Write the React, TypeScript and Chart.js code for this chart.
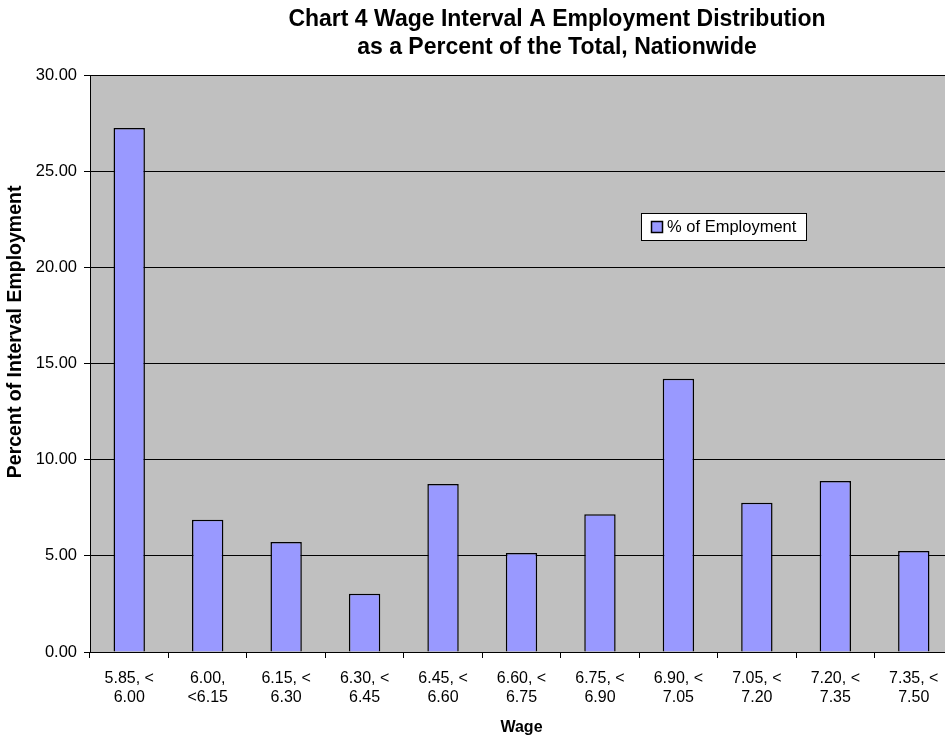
import React, { useEffect, useRef } from "react";
import { Chart, registerables } from "chart.js";

Chart.register(...registerables);

const FONT = "'Liberation Sans', Arial, Helvetica, sans-serif";

const categories: string[][] = [
  ["5.85, <", "6.00"],
  ["6.00,", "<6.15"],
  ["6.15, <", "6.30"],
  ["6.30, <", "6.45"],
  ["6.45, <", "6.60"],
  ["6.60, <", "6.75"],
  ["6.75, <", "6.90"],
  ["6.90, <", "7.05"],
  ["7.05, <", "7.20"],
  ["7.20, <", "7.35"],
  ["7.35, <", "7.50"],
];

const employmentPct: number[] = [27.25, 6.88, 5.72, 3.03, 8.74, 5.15, 7.17, 14.21, 7.76, 8.89, 5.25];

const seriesLabel = "% of Employment";
const titleLines = [
  "Chart 4 Wage Interval A Employment Distribution",
  "as a Percent of the Total, Nationwide",
];
const xTitle = "Wage";
const yTitle = "Percent of Interval Employment";
const yMin = 0;
const yMax = 30;
const yStep = 5;

const plotBackground = {
  id: "plotBackground",
  beforeDraw(chart: any) {
    const { ctx, chartArea } = chart;
    ctx.save();
    ctx.fillStyle = "#C0C0C0";
    ctx.fillRect(chartArea.left, chartArea.top, chartArea.right - chartArea.left, chartArea.bottom - chartArea.top);
    ctx.restore();
  },
};

const yAxisTitle = {
  id: "yAxisTitle",
  afterDraw(chart: any) {
    const { ctx, chartArea } = chart;
    const h = chartArea.bottom - chartArea.top;
    ctx.save();
    ctx.translate(16, chartArea.top + h * 0.445);
    ctx.rotate(-Math.PI / 2);
    ctx.font = `bold 19.5px ${FONT}`;
    ctx.fillStyle = "#000000";
    ctx.textAlign = "center";
    ctx.textBaseline = "middle";
    ctx.fillText(yTitle, 0, 0);
    ctx.restore();
  },
};

const boxLegend = {
  id: "boxLegend",
  afterDraw(chart: any) {
    const { ctx, chartArea } = chart;
    const ds = chart.data.datasets[0];
    const w = chartArea.right - chartArea.left;
    const h = chartArea.bottom - chartArea.top;
    const x = chartArea.left + w * 0.6385;
    const y = chartArea.top + h * 0.239;
    ctx.save();
    ctx.font = `16.5px ${FONT}`;
    const tw = ctx.measureText(ds.label).width;
    const bw = 10 + 11 + 5 + tw + 10;
    const bh = 27;
    ctx.fillStyle = "#FFFFFF";
    ctx.fillRect(x, y, bw, bh);
    ctx.strokeStyle = "#000000";
    ctx.lineWidth = 1;
    ctx.strokeRect(Math.round(x) + 0.5, Math.round(y) + 0.5, Math.round(bw), bh);
    const sx = Math.round(x + 10) + 0.5;
    const sy = Math.round(y + bh / 2 - 5.5) + 0.5;
    ctx.fillStyle = ds.backgroundColor;
    ctx.fillRect(sx, sy, 11, 11);
    ctx.lineWidth = 1.5;
    ctx.strokeRect(sx, sy, 11, 11);
    ctx.fillStyle = "#000000";
    ctx.textBaseline = "middle";
    ctx.textAlign = "left";
    ctx.fillText(ds.label, x + 26, y + bh / 2 + 1);
    ctx.restore();
  },
};

export default function App() {
  const canvasRef = useRef<HTMLCanvasElement | null>(null);

  useEffect(() => {
    const canvas = canvasRef.current;
    if (!canvas) return;
    const chart = new Chart(canvas, {
      type: "bar",
      data: {
        labels: categories,
        datasets: [
          {
            label: seriesLabel,
            data: employmentPct,
            backgroundColor: "#9999FF",
            borderColor: "#000000",
            borderWidth: 1.5,
            barPercentage: 0.4,
            categoryPercentage: 1,
          },
        ],
      },
      options: {
        animation: false,
        responsive: false,
        devicePixelRatio: 1,
        layout: { padding: 0 },
        plugins: {
          legend: { display: false },
          tooltip: { enabled: false },
          title: {
            display: true,
            text: titleLines,
            color: "#000000",
            font: { family: FONT, size: 23, weight: "bold" },
            padding: { top: 6, bottom: 14 },
          },
        },
        scales: {
          x: {
            offset: true,
            grid: {
              display: true,
              drawOnChartArea: false,
              drawTicks: true,
              tickLength: 6,
              color: "#000000",
              offset: true,
            },
            border: { display: true, color: "#000000", width: 1 },
            ticks: {
              color: "#000000",
              font: { family: FONT, size: 16 },
              maxRotation: 0,
              autoSkip: false,
              padding: 11,
            },
            title: {
              display: true,
              text: xTitle,
              color: "#000000",
              font: { family: FONT, size: 16, weight: "bold", lineHeight: 1.1 },
              padding: { top: 0, bottom: 0 },
            },
          },
          y: {
            min: yMin,
            max: yMax,
            ticks: {
              stepSize: yStep,
              color: "#000000",
              font: { family: FONT, size: 16.5 },
              padding: 7,
              callback: (v: any) => Number(v).toFixed(2),
            },
            grid: { color: "#000000", lineWidth: 1, tickLength: 6 },
            border: { display: true, color: "#000000", width: 1 },
            title: { display: false },
            afterFit: (s: any) => {
              s.width = 90;
            },
          },
          y2: {
            type: "linear",
            position: "right",
            display: true,
            grid: { display: false, drawTicks: false },
            border: { display: false },
            ticks: { display: false },
            afterFit: (s: any) => {
              s.width = 161;
            },
          },
        },
      },
      plugins: [plotBackground, boxLegend, yAxisTitle],
    } as any);
    return () => chart.destroy();
  }, []);

  return (
    <div
      style={{
        position: "fixed",
        left: 0,
        top: 0,
        width: 945,
        height: 736,
        overflow: "hidden",
        background: "#FFFFFF",
      }}
    >
      <canvas ref={canvasRef} width={1114} height={736} style={{ display: "block" }} />
    </div>
  );
}
